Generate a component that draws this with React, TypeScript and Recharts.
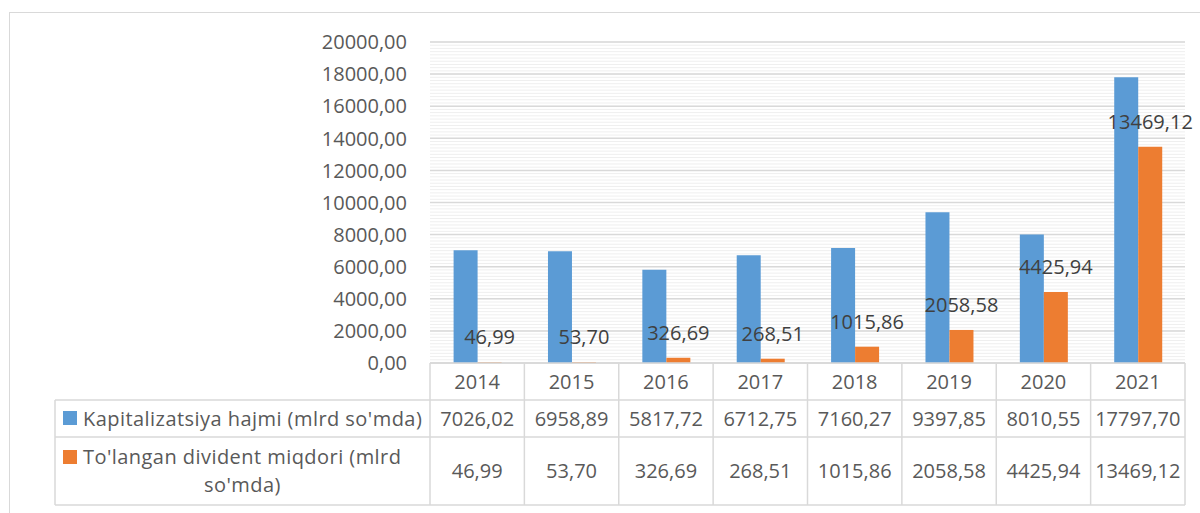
import React from 'react';
import { BarChart, Bar, XAxis, YAxis, CartesianGrid, LabelList } from 'recharts';

const years = ['2014', '2015', '2016', '2017', '2018', '2019', '2020', '2021'];
const kapitalizatsiya = [7026.02, 6958.89, 5817.72, 6712.75, 7160.27, 9397.85, 8010.55, 17797.7];
const dividend = [46.99, 53.7, 326.69, 268.51, 1015.86, 2058.58, 4425.94, 13469.12];
const yTicks = [0, 2000, 4000, 6000, 8000, 10000, 12000, 14000, 16000, 18000, 20000];
const seriesNames = ['Kapitalizatsiya hajmi (mlrd so\'mda)', 'To\'langan divident miqdori (mlrd', 'so\'mda)'];

const data = years.map((y, i) => ({ year: y, kap: kapitalizatsiya[i], div: dividend[i] }));

const W = 1200;
const H = 513;
const TOP = 42;
const RIGHT = 15;
const Y_AXIS_W = 430;
const X_AXIS_H = 142;
const BOTTOM = 8;
const PLOT_W = W - Y_AXIS_W - RIGHT;
const PLOT_H = H - TOP - BOTTOM - X_AXIS_H;
const AXIS_Y = TOP + PLOT_H;
const BAND = PLOT_W / years.length;
const ROW1_H = 37;
const ROW2_H = 37;
const ROW3_H = 68;
const LEG_X0 = 55;

const BLUE = '#5B9BD5';
const ORANGE = '#ED7D31';
const GRID = '#d9d9d9';
const MINOR = '#efefef';
const TXT = '#595959';
const FONT = '"Open Sans", sans-serif';
const FS = 20;

const fmt = (v: number) => v.toFixed(2).replace('.', ',');

const minorValues: number[] = [];
for (let v = 0; v <= 20000; v += 200) minorValues.push(v);

const TableTick = (props: any) => {
  const { x, index, payload } = props;
  const i = index ?? payload.index;
  const left = x - BAND / 2;
  const right = x + BAND / 2;
  const r1 = AXIS_Y + ROW1_H;
  const r2 = r1 + ROW2_H;
  const r3 = r2 + ROW3_H;
  const plotLeft = Y_AXIS_W;
  const plotRight = Y_AXIS_W + PLOT_W;
  const legCx = (LEG_X0 + plotLeft) / 2;
  return (
    <g fontFamily={FONT} fontSize={FS} fill={TXT}>
      <line x1={left} y1={AXIS_Y} x2={left} y2={r3} stroke={GRID} strokeWidth={1.5} />
      {i === years.length - 1 && (
        <line x1={right} y1={AXIS_Y} x2={right} y2={r3} stroke={GRID} strokeWidth={1.5} />
      )}
      {i === 0 && (
        <g>
          <line x1={LEG_X0} y1={r1} x2={plotRight} y2={r1} stroke={GRID} strokeWidth={1.5} />
          <line x1={LEG_X0} y1={r2} x2={plotRight} y2={r2} stroke={GRID} strokeWidth={1.5} />
          <line x1={LEG_X0} y1={r3} x2={plotRight} y2={r3} stroke={GRID} strokeWidth={1.5} />
          <line x1={LEG_X0} y1={r1} x2={LEG_X0} y2={r3} stroke={GRID} strokeWidth={1.5} />
          <rect x={63} y={r1 + 11} width={14} height={14} fill={BLUE} />
          <text x={83} y={r1 + ROW2_H / 2} dy="0.36em" fill={TXT} letterSpacing={0.45}>{seriesNames[0]}</text>
          <rect x={63} y={r2 + 13} width={14} height={14} fill={ORANGE} />
          <text x={83} y={r2 + 20} dy="0.36em" fill={TXT} letterSpacing={0.45}>{seriesNames[1]}</text>
          <text x={legCx} y={r2 + 48} dy="0.36em" textAnchor="middle" fill={TXT} letterSpacing={0.45}>{seriesNames[2]}</text>
        </g>
      )}
      <text x={x} y={AXIS_Y + ROW1_H / 2} dy="0.36em" textAnchor="middle" fill={TXT}>{payload.value}</text>
      <text x={x} y={r1 + ROW2_H / 2} dy="0.36em" textAnchor="middle" fill={TXT}>{fmt(kapitalizatsiya[i])}</text>
      <text x={x} y={r2 + ROW3_H / 2} dy="0.36em" textAnchor="middle" fill={TXT}>{fmt(dividend[i])}</text>
    </g>
  );
};

const YTick = (props: any) => {
  const { x, y, payload } = props;
  return (
    <text x={x} y={y} dy="0.36em" textAnchor="end" fontFamily={FONT} fontSize={FS} fill={TXT}>
      {fmt(payload.value)}
    </text>
  );
};

export default function App() {
  return (
    <div style={{ position: 'absolute', left: 0, top: 0, width: W, height: H, background: '#fff', overflow: 'hidden' }}>
      <div style={{ position: 'absolute', left: 9, top: 12, width: 1300, height: 600, border: '1.5px solid #d9d9d9', boxSizing: 'border-box' }} />
      <div style={{ position: 'absolute', left: 0, top: 0 }}>
        <BarChart
          width={W}
          height={H}
          data={data}
          margin={{ top: TOP, right: RIGHT, left: 0, bottom: BOTTOM }}
          barCategoryGap="25%"
          barGap={0}
        >
          <CartesianGrid vertical={false} stroke={MINOR} strokeWidth={1} horizontalValues={minorValues} />
          <CartesianGrid vertical={false} stroke={GRID} strokeWidth={1.5} horizontalValues={yTicks} />
          <YAxis
            domain={[0, 20000]}
            ticks={yTicks}
            width={Y_AXIS_W}
            axisLine={false}
            tickLine={false}
            tickSize={0}
            tickMargin={23}
            tick={<YTick />}
            interval={0}
          />
          <XAxis
            dataKey="year"
            height={X_AXIS_H}
            axisLine={{ stroke: GRID, strokeWidth: 1.5 }}
            tickLine={false}
            tick={<TableTick />}
            interval={0}
          />
          <Bar dataKey="kap" fill={BLUE} isAnimationActive={false} />
          <Bar dataKey="div" fill={ORANGE} isAnimationActive={false}>
            <LabelList
              dataKey="div"
              position="top"
              offset={18}
              formatter={(v: any) => fmt(Number(v))}
              fill="#404040"
              fontSize={FS}
              fontFamily={FONT}
            />
          </Bar>
        </BarChart>
      </div>
    </div>
  );
}
